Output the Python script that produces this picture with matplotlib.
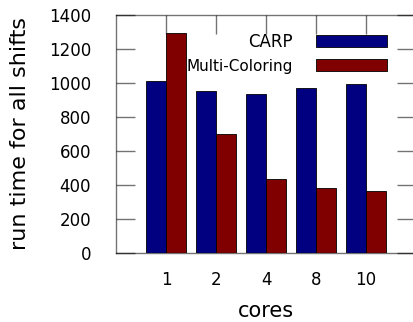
import numpy as np
import matplotlib
matplotlib.use("Agg")
import matplotlib.pyplot as plt

cores = ["1", "2", "4", "8", "10"]
carp = [1012, 955, 933, 970, 996]
multi_coloring = [1292, 700, 433, 382, 365]
yticks = [0, 200, 400, 600, 800, 1000, 1200, 1400]

plt.rcParams['font.family'] = ['DejaVu Sans']

W, H = 413, 322
fig = plt.figure(figsize=(W / 100, H / 100), dpi=100)
left, right, top, bottom = 116, 416, 15, 253
ax = fig.add_axes([left / W, (H - bottom) / H, (right - left) / W, (bottom - top) / H])

x = np.arange(len(cores))
bw = 0.4
ax.bar(x - bw / 2, carp, bw, color="#000080", edgecolor="black", linewidth=0.6, label="CARP", zorder=2)
ax.bar(x + bw / 2, multi_coloring, bw, color="#800000", edgecolor="black", linewidth=0.6, label="Multi-Coloring", zorder=2)

ax.set_xlim(-1, 5)
ax.set_ylim(0, 1400)
ax.set_yticks(yticks)
ax.set_xticks(x)
ax.set_xticklabels(cores)

spine_col = (0, 0, 0, 0.55)
for s in ax.spines.values():
    s.set_color(spine_col)
    s.set_linewidth(1.0)

ax.tick_params(axis="y", direction="in", length=13.7, width=1.0, color=spine_col,
               left=True, right=True, labelsize=12, pad=18)
ax.tick_params(axis="x", direction="in", length=13.7, width=1.0, color=spine_col,
               bottom=False, top=True, labelbottom=True, labeltop=False, labelsize=12, pad=13)

ax.set_ylabel("run time for all shifts", fontsize=16)
ax.yaxis.label.set_va("center")
ax.yaxis.set_label_coords((20 - left) / (right - left), 0.5)
ax.set_xlabel("cores", fontsize=15)
ax.xaxis.label.set_va("center")
ax.xaxis.set_label_coords(0.5, (bottom - 311) / (bottom - top))

fs = 12
leg = ax.legend(loc="upper right", bbox_to_anchor=((387 - left) / (right - left), (bottom - 33) / (bottom - top)),
                frameon=False, markerfirst=False, fontsize=fs, borderpad=0, borderaxespad=0,
                handlelength=71 / (fs * 100 / 72), handleheight=13 / (fs * 100 / 72),
                handletextpad=1.4, labelspacing=0.45)
leg.get_texts()[1].set_fontsize(11)

fig.savefig("out.png", dpi=100)
